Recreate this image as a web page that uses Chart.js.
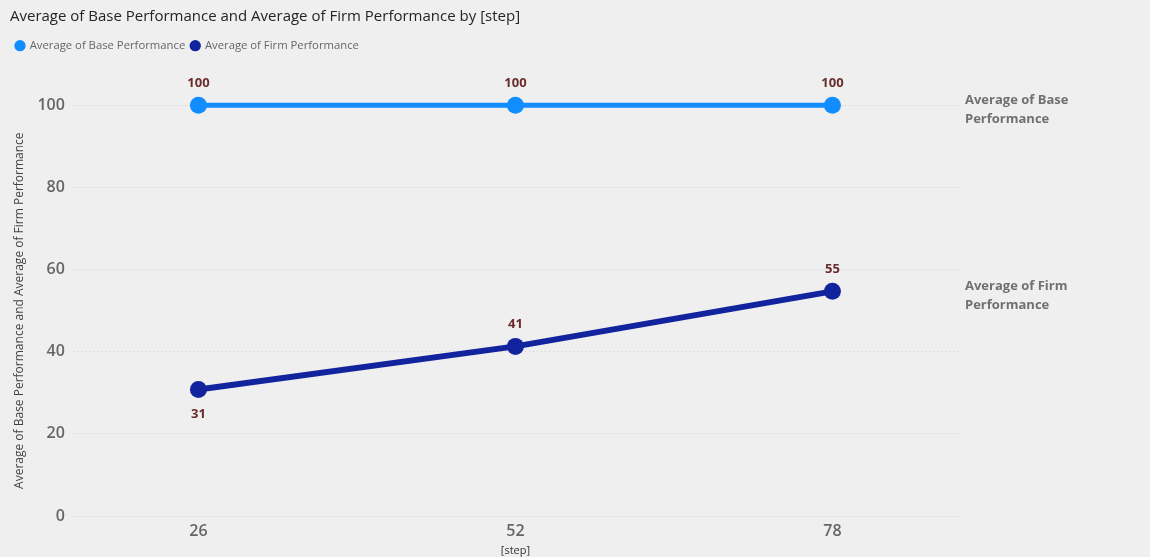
<!DOCTYPE html>
<html>
<head>
<meta charset="utf-8">
<script src="https://cdn.jsdelivr.net/npm/chart.js@4.4.0/dist/chart.umd.min.js"></script>
<style>
  body { margin: 0; background: #efefef; }
  #wrap { width: 1150px; height: 557px; }
</style>
</head>
<body>
<div id="wrap"><canvas id="perfChart"></canvas></div>
<script>
// data
const steps = [26, 52, 78];
const basePerf = [100, 100, 100];
const firmPerf = [30.8, 41.3, 54.7];
const seriesNames = ['Average of Base Performance', 'Average of Firm Performance'];
const endNames = [['Average of Base', 'Performance'], ['Average of Firm', 'Performance']];
const labelSide = [['above', 'above', 'above'], ['below', 'above', 'above']];
const xRange = [15.7, 88.3];

const FONT = '"Open Sans", "Noto Sans", sans-serif';

// value labels over / under each point
const valueLabels = {
  id: 'valueLabels',
  afterDatasetsDraw(chart) {
    const ctx = chart.ctx;
    ctx.save();
    ctx.font = '700 13px ' + FONT;
    ctx.fillStyle = '#6b2c2c';
    ctx.textAlign = 'center';
    ctx.textBaseline = 'middle';
    chart.data.datasets.forEach((ds, i) => {
      chart.getDatasetMeta(i).data.forEach((pt, j) => {
        const dy = labelSide[i][j] === 'below' ? 25 : -22;
        ctx.fillText(Math.round(ds.data[j].y), pt.x, pt.y + dy);
      });
    });
    ctx.restore();
  }
};

// series names at the right end of each line
const endLabels = {
  id: 'endLabels',
  afterDatasetsDraw(chart) {
    const { ctx, chartArea } = chart;
    ctx.save();
    ctx.font = '700 13px ' + FONT;
    ctx.fillStyle = '#707070';
    ctx.textBaseline = 'middle';
    chart.data.datasets.forEach((ds, i) => {
      const pts = chart.getDatasetMeta(i).data;
      const last = pts[pts.length - 1];
      const lines = endNames[i];
      lines.forEach((t, k) => {
        ctx.fillText(t, chartArea.right + 7, last.y + 4 + (k - (lines.length - 1) / 2) * 19);
      });
    });
    ctx.restore();
  }
};

const ctx = document.getElementById('perfChart');
new Chart(ctx, {
  type: 'line',
  data: {
    datasets: [
      {
        label: seriesNames[0],
        data: steps.map((s, i) => ({ x: s, y: basePerf[i] })),
        borderColor: '#118dff',
        backgroundColor: '#118dff',
        borderWidth: 5,
        pointRadius: 8.5,
        pointBorderWidth: 0,
        tension: 0,
        clip: false
      },
      {
        label: seriesNames[1],
        data: steps.map((s, i) => ({ x: s, y: firmPerf[i] })),
        borderColor: '#12239e',
        backgroundColor: '#12239e',
        borderWidth: 6,
        pointRadius: 8.5,
        pointBorderWidth: 0,
        tension: 0,
        clip: false
      }
    ]
  },
  options: {
    responsive: true,
    maintainAspectRatio: false,
    animation: false,
    layout: { padding: { left: 10, right: 192, top: 6, bottom: 0 } },
    plugins: {
      tooltip: { enabled: false },
      title: {
        display: true,
        text: 'Average of Base Performance and Average of Firm Performance by [step]',
        align: 'start',
        color: '#252423',
        font: { family: FONT, size: 15, weight: 'normal' },
        padding: { top: 2, bottom: 8 }
      },
      legend: {
        align: 'start',
        labels: {
          usePointStyle: true,
          pointStyle: 'circle',
          boxWidth: 8,
          boxHeight: 8,
          padding: 6,
          color: '#666666',
          font: { family: FONT, size: 11.3 }
        }
      }
    },
    scales: {
      x: {
        type: 'linear',
        min: xRange[0],
        max: xRange[1],
        afterBuildTicks: axis => { axis.ticks = steps.map(v => ({ value: v })); },
        afterFit: axis => { axis.height = 41; },
        grid: { display: false },
        border: { display: false },
        ticks: {
          color: '#666666',
          padding: -2,
          font: { family: FONT, size: 16, weight: '600' }
        },
        title: {
          display: true,
          text: '[step]',
          color: '#333333',
          padding: { top: 0, bottom: 0 },
          font: { family: FONT, size: 11 }
        }
      },
      y: {
        min: 0,
        max: 100,
        grid: {
          color: '#cfcfcf',
          lineWidth: 1,
          drawTicks: false
        },
        border: { display: false, dash: [1, 3] },
        ticks: {
          stepSize: 20,
          color: '#666666',
          padding: 8,
          font: { family: FONT, size: 16, weight: '600' }
        },
        title: {
          display: true,
          text: 'Average of Base Performance and Average of Firm Performance',
          color: '#444444',
          padding: { top: 2, bottom: 3 },
          font: { family: FONT, size: 12 }
        }
      }
    }
  },
  plugins: [
    {
      id: 'legendGap',
      beforeInit(chart) {
        const fit = chart.legend.fit;
        chart.legend.fit = function () {
          fit.bind(chart.legend)();
          this.height += 44;
        };
      }
    },
    valueLabels,
    endLabels
  ]
});
</script>
</body>
</html>
